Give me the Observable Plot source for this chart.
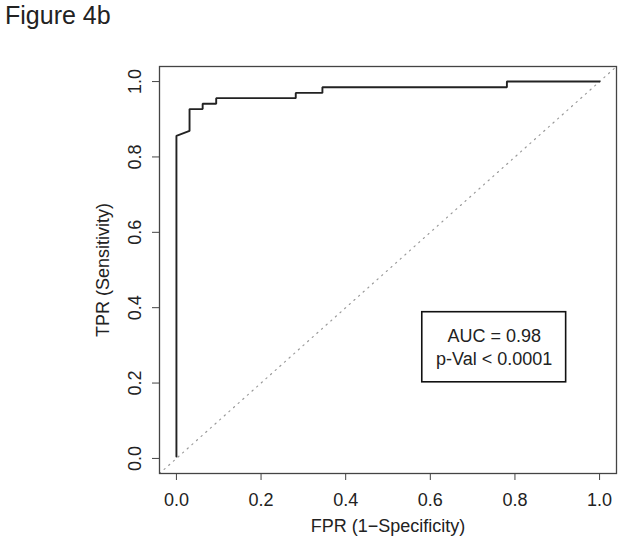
<!DOCTYPE html>
<html>
<head>
<meta charset="utf-8">
<script src="https://cdn.jsdelivr.net/npm/d3@7"></script>
<script src="https://cdn.jsdelivr.net/npm/@observablehq/plot@0.6"></script>
<style>
  html, body { margin: 0; padding: 0; background: #fff; }
  body { width: 624px; height: 549px; overflow: hidden; font-family: "Liberation Sans", Arial, sans-serif; }
  #title { height: 40px; line-height: 30px; padding-left: 5px; font-size: 25px; color: #222; }
  svg { display: block; }
</style>
</head>
<body>
<div id="title">Figure 4b</div>
<div id="chart"></div>
<script>
// ROC curve
const fpr = [0, 0, 0.031, 0.031, 0.062, 0.062, 0.094, 0.094, 0.282, 0.282, 0.345, 0.345, 0.781, 0.781, 1.0];
const tpr = [0.005, 0.856, 0.869, 0.927, 0.927, 0.941, 0.941, 0.956, 0.956, 0.970, 0.970, 0.985, 0.985, 1.0, 1.0];

// axis ticks
const xTicks = [0, 0.2, 0.4, 0.6, 0.8, 1.0];
const yTicks = [0, 0.2, 0.4, 0.6, 0.8, 1.0];
const tickLabels = ["0.0", "0.2", "0.4", "0.6", "0.8", "1.0"];

// annotation texts
const legendLines = ["AUC = 0.98", "p-Val < 0.0001"];
const xTitle = "FPR (1\u2212Specificity)";
const yTitle = "TPR (Sensitivity)";

// layout (R-style 4% padding around [0,1])
const pad = 0.04;
const dom = [0 - pad, 1 + pad];
const legendBox = {x1: 0.581, x2: 0.921, y1: 0.202, y2: 0.388};
const legendTextX = 0.751;
const legendTextY = [0.324, 0.263];

const curve = fpr.map((x, i) => ({x, y: tpr[i]}));
const diag = dom.map(v => ({x: v, y: v}));
const font = "Liberation Sans, Arial, sans-serif";
const ink = "#222";

const chart = Plot.plot({
  width: 624,
  height: 509,
  marginLeft: 159,
  marginRight: 8,
  marginTop: 26,
  marginBottom: 76,
  style: {fontFamily: font, color: ink, background: "#fff"},
  x: {domain: dom, axis: null},
  y: {domain: dom, axis: null},
  marks: [
    Plot.line(diag, {x: "x", y: "y", stroke: "#9a9a9a", strokeWidth: 1.2, strokeDasharray: "1.2,5", clip: true}),
    Plot.line(curve, {x: "x", y: "y", stroke: "#222", strokeWidth: 1.9, strokeLinejoin: "miter"}),
    Plot.rect([legendBox], {x1: "x1", x2: "x2", y1: "y1", y2: "y2", fill: "#fff", stroke: "#111", strokeWidth: 1.6}),
    Plot.text(legendLines, {x: () => legendTextX, y: (d, i) => legendTextY[i], text: d => d, fontSize: 18, fill: ink, textAnchor: "middle", lineAnchor: "middle"}),
    Plot.frame({stroke: "#444", strokeWidth: 1.3}),
    Plot.axisX({ticks: xTicks, tickSize: 7, tickPadding: 13, tickFormat: (d, i) => tickLabels[xTicks.indexOf(d)], fontSize: 18, stroke: "#444", fill: ink, anchor: "bottom"}),
    Plot.axisY({ticks: yTicks, tickSize: 7, tickFormat: () => "", stroke: "#444", anchor: "left"}),
    Plot.text(yTicks, {y: d => d, frameAnchor: "left", dx: -24, rotate: -90, text: (d) => tickLabels[yTicks.indexOf(d)], fontSize: 18, fill: ink, textAnchor: "middle", lineAnchor: "middle"}),
    Plot.text([xTitle], {frameAnchor: "bottom", dy: 53, text: d => d, fontSize: 18, fill: ink, textAnchor: "middle", lineAnchor: "middle"}),
    Plot.text([yTitle], {frameAnchor: "left", dx: -56, rotate: -90, text: d => d, fontSize: 18, fill: ink, textAnchor: "middle", lineAnchor: "middle"})
  ]
});
document.getElementById("chart").appendChild(chart);
</script>
</body>
</html>
